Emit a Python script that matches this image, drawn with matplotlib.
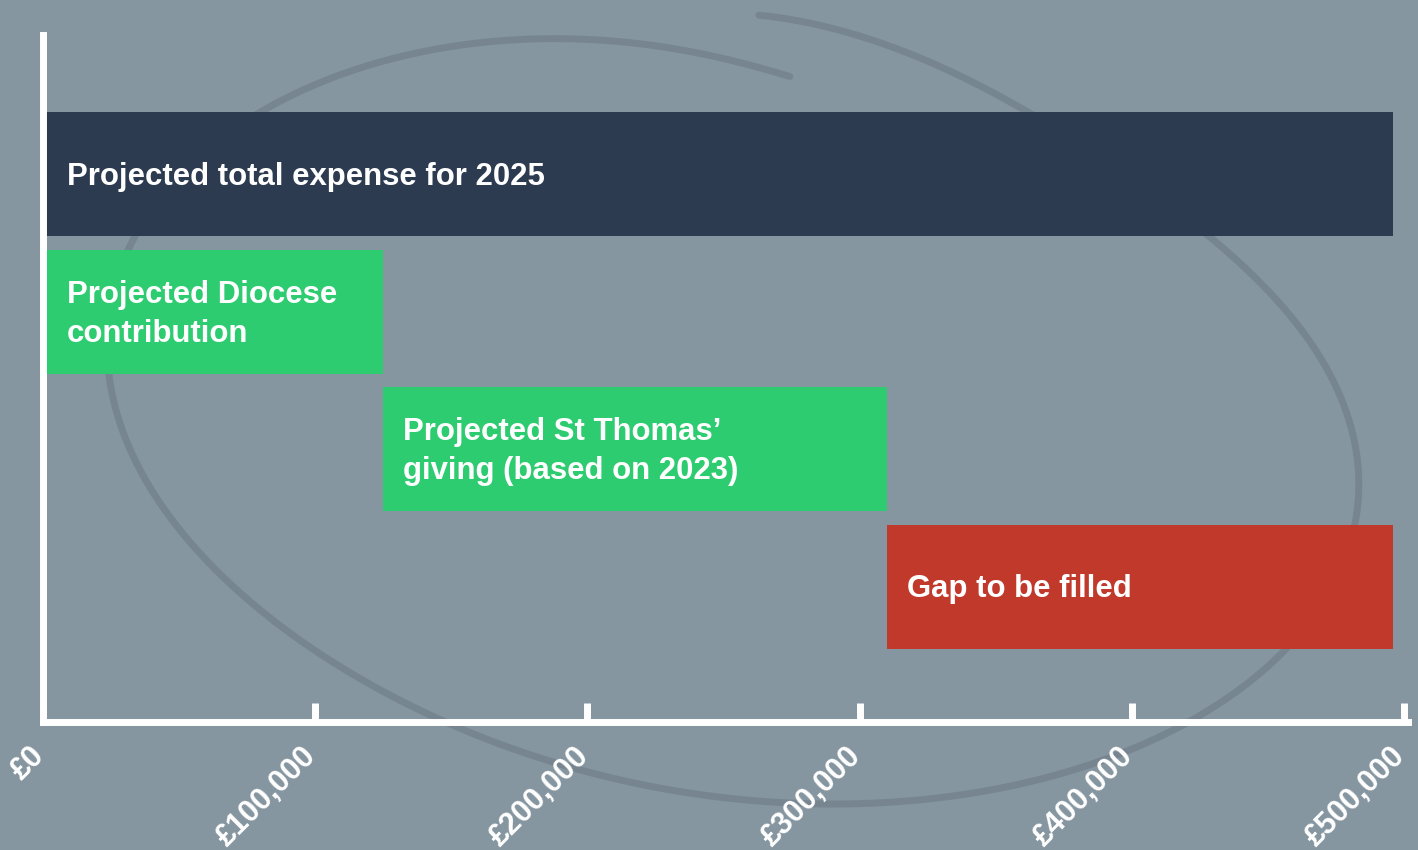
import numpy as np
import matplotlib
matplotlib.use("Agg")
import matplotlib.pyplot as plt
from matplotlib.lines import Line2D

# ---- data ----
labels = ["Projected total expense for 2025",
          "Projected Diocese\ncontribution",
          "Projected St Thomas’\ngiving (based on 2023)",
          "Gap to be filled"]
starts = [0, 0, 125000, 310000]
amounts = [496000, 125000, 185000, 186000]
colors = ["#2c3b4f", "#2ecc71", "#2ecc71", "#c0392b"]
tick_values = [0, 100000, 200000, 300000, 400000, 500000]
tick_labels = ["£0", "£100,000", "£200,000", "£300,000", "£400,000", "£500,000"]

# decorative background swirl guide points (figure pixels, from top-left)
swirl_x = [790, 658, 524, 368, 243, 136, 118, 127, 161, 253, 355, 467, 610, 814,
           900, 995, 1125, 1212, 1285, 1350, 1352, 1293, 1210, 1033, 965, 918, 800, 759]
swirl_y = [75, 50, 38, 67, 112, 240, 377, 420, 500, 627, 693, 720, 760, 803,
           805, 790, 760, 713, 650, 500, 464, 314, 236, 112, 77, 61, 23, 13]

BG = "#8696a0"
W, H = 1418, 850
fig = plt.figure(figsize=(W / 100, H / 100), dpi=100, facecolor=BG)

# smooth spiral through the guide points: polar fit in a normalised ellipse frame
cx, cy, ea, eb = 737.0, 420.0, 620.0, 390.0
u = (np.array(swirl_x) - cx) / ea
v = -(np.array(swirl_y) - cy) / eb
phi = np.unwrap(np.arctan2(v, u))
r = np.hypot(u, v)
coef = np.polyfit(phi, r, 9)
ph = np.linspace(phi[0], phi[-1], 900)
rr = np.polyval(coef, ph)
sx = cx + ea * rr * np.cos(ph)
sy = cy - eb * rr * np.sin(ph)
fig.add_artist(Line2D(sx / W, 1 - sy / H, transform=fig.transFigure,
                      color="#76858f", lw=5, solid_capstyle="round", zorder=0))

ax = fig.add_axes([43 / W, (H - 722) / H, (1408 - 43) / W, (722 - 35) / H])
ax.set_zorder(1)
ax.patch.set_visible(False)

ypos = np.arange(len(labels))
ax.barh(ypos, amounts, left=starts, height=0.902, color=colors, zorder=1)

for y, s, lab in zip(ypos, starts, labels):
    ax.annotate(lab, xy=(max(s, 1500), y), xytext=(14.5, -2), textcoords="offset points",
                ha="left", va="center", color="white", fontsize=22.4,
                fontweight="bold", family="Liberation Sans", linespacing=1.4, zorder=3)

ax.set_xlim(0, 501500)
ax.set_ylim(3.985, -1.011)
ax.set_yticks([])
ax.set_xticks(tick_values)
ax.set_xticklabels([])
for tv, tl in zip(tick_values, tick_labels):
    ax.annotate(tl, xy=(tv, 0), xycoords=("data", "axes fraction"),
                xytext=(-10, -13.5), textcoords="offset points",
                rotation=45, ha="right", va="top", rotation_mode="anchor",
                color="white", fontsize=22, fontweight="bold",
                family="Liberation Sans", annotation_clip=False)
ax.tick_params(axis="x", direction="in", length=14, width=5, color="white")
for side in ["top", "right"]:
    ax.spines[side].set_visible(False)
for side in ["left", "bottom"]:
    ax.spines[side].set_color("white")
    ax.spines[side].set_linewidth(5)
    ax.spines[side].set_zorder(4)

fig.savefig("out.png", dpi=100, facecolor=BG)
